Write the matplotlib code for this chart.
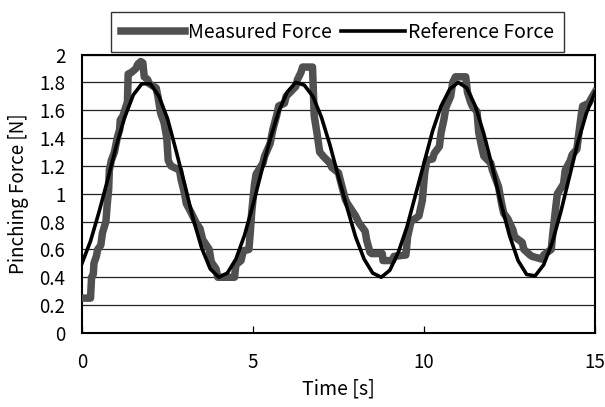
import matplotlib

matplotlib.use("Agg")

import matplotlib.pyplot as plt

plt.rcParams["font.family"] = ["Noto Sans CJK JP", "DejaVu Sans"]

# reference force, sampled every 0.25 s
ref_t = [i * 0.25 for i in range(61)]
ref_v = [
    0.50, 0.66, 0.87, 1.10, 1.34, 1.55, 1.71, 1.79,
    1.79, 1.70, 1.54, 1.31, 1.07, 0.82, 0.61, 0.46,
    0.40, 0.43, 0.53, 0.70, 0.92, 1.16, 1.39, 1.59,
    1.73, 1.80, 1.78, 1.70, 1.55, 1.35, 1.12, 0.90,
    0.69, 0.53, 0.43, 0.40, 0.45, 0.58, 0.76, 0.99,
    1.22, 1.45, 1.63, 1.75, 1.80, 1.76, 1.63, 1.43,
    1.19, 0.93, 0.70, 0.52, 0.42, 0.41, 0.49, 0.65,
    0.87, 1.12, 1.37, 1.58, 1.73,
]

# measured force (stepwise sensor trace)
meas_t = [
    0.00, 0.25, 0.28, 0.33, 0.35, 0.42, 0.46, 0.55, 0.60, 0.70,
    0.74, 0.78, 0.80, 0.86, 0.95, 1.03, 1.10, 1.12, 1.20, 1.25,
    1.33, 1.35, 1.44, 1.58, 1.63, 1.72, 1.78, 1.82, 1.92, 1.97,
    2.17, 2.22, 2.30, 2.40, 2.48, 2.52, 2.60, 2.85, 2.90, 3.00,
    3.05, 3.20, 3.34, 3.45, 3.53, 3.72, 3.78, 3.92, 3.97, 4.46,
    4.50, 4.65, 4.72, 4.88, 4.92, 4.96, 5.04, 5.09, 5.29, 5.34,
    5.50, 5.58, 5.70, 5.75, 5.92, 5.97, 6.25, 6.30, 6.40, 6.45,
    6.74, 6.79, 6.88, 6.95, 7.05, 7.25, 7.30, 7.50, 7.55, 7.70,
    7.76, 8.00, 8.10, 8.28, 8.32, 8.42, 8.47, 8.78, 8.80, 9.08,
    9.12, 9.47, 9.52, 9.62, 9.85, 9.95, 10.02, 10.08, 10.25, 10.30,
    10.45, 10.50, 10.58, 10.64, 10.78, 10.84, 10.92, 11.22, 11.27, 11.36,
    11.41, 11.55, 11.60, 11.70, 11.75, 11.95, 12.00, 12.18, 12.26, 12.33,
    12.45, 12.60, 12.65, 12.87, 12.92, 13.10, 13.16, 13.45, 13.50, 13.72,
    13.76, 13.86, 13.90, 14.08, 14.13, 14.28, 14.33, 14.47, 14.52, 14.60,
    14.64, 14.82, 14.88, 15.00,
]
meas_v = [
    0.25, 0.25, 0.40, 0.42, 0.50, 0.55, 0.60, 0.63, 0.72, 0.80,
    0.93, 1.03, 1.17, 1.24, 1.30, 1.40, 1.46, 1.53, 1.56, 1.60,
    1.66, 1.86, 1.87, 1.90, 1.93, 1.95, 1.94, 1.84, 1.82, 1.79,
    1.76, 1.70, 1.58, 1.51, 1.40, 1.24, 1.20, 1.17, 1.10, 1.00,
    0.93, 0.86, 0.79, 0.75, 0.67, 0.60, 0.51, 0.46, 0.40, 0.40,
    0.49, 0.52, 0.59, 0.60, 0.72, 0.86, 1.06, 1.14, 1.22, 1.27,
    1.36, 1.46, 1.57, 1.63, 1.65, 1.70, 1.77, 1.82, 1.87, 1.91,
    1.91, 1.56, 1.42, 1.30, 1.27, 1.22, 1.19, 1.15, 1.10, 0.96,
    0.93, 0.84, 0.79, 0.73, 0.67, 0.58, 0.57, 0.57, 0.52, 0.52,
    0.55, 0.56, 0.69, 0.80, 0.84, 0.95, 1.15, 1.24, 1.25, 1.29,
    1.34, 1.44, 1.53, 1.62, 1.70, 1.80, 1.84, 1.84, 1.73, 1.66,
    1.63, 1.59, 1.44, 1.32, 1.27, 1.22, 1.17, 1.05, 0.94, 0.86,
    0.82, 0.74, 0.69, 0.65, 0.60, 0.56, 0.55, 0.53, 0.56, 0.60,
    0.70, 0.92, 1.00, 1.07, 1.17, 1.24, 1.28, 1.32, 1.42, 1.57,
    1.63, 1.65, 1.68, 1.73,
]

x_ticks = [0, 5, 10, 15]
y_ticks = [0, 0.2, 0.4, 0.6, 0.8, 1, 1.2, 1.4, 1.6, 1.8, 2]
y_tick_labels = ["0", "0.2", "0.4", "0.6", "0.8", "1", "1.2", "1.4", "1.6", "1.8", "2"]

fig = plt.figure(figsize=(6.05, 4.07), dpi=100)
ax = fig.add_axes([0.1355, 0.182, 0.848, 0.684])

ax.plot(meas_t, meas_v, color="#505050", linewidth=5.4, solid_joinstyle="round",
        label="Measured Force", zorder=3)
ax.plot(ref_t, ref_v, color="black", linewidth=2.6, label="Reference Force", zorder=4)

ax.set_xlim(0, 15)
ax.set_ylim(0, 2)
ax.set_xticks(x_ticks)
ax.set_yticks(y_ticks)
ax.set_yticklabels(y_tick_labels)
ax.grid(axis="y", color="#222222", linewidth=0.9)
ax.set_axisbelow(True)
for s in ax.spines.values():
    s.set_linewidth(1.5)
    s.set_color("black")

ax.tick_params(axis="x", direction="in", length=5, width=0.9, pad=14, labelsize=13.5)
ax.tick_params(axis="y", length=0, pad=12, labelsize=13.5)
ax.set_xlabel("Time [s]", fontsize=14, labelpad=4)
ax.set_ylabel("Pinching Force [N]", fontsize=13.5, labelpad=7)

leg = ax.legend(loc="lower center", bbox_to_anchor=(0.498, 1.008), ncol=2,
                frameon=True, fancybox=False, edgecolor="black", fontsize=14,
                handlelength=3.3, handletextpad=0.15, columnspacing=0.5,
                borderpad=0.5, borderaxespad=0)
leg.get_frame().set_linewidth(1.0)

fig.savefig("out.png", dpi=100)
